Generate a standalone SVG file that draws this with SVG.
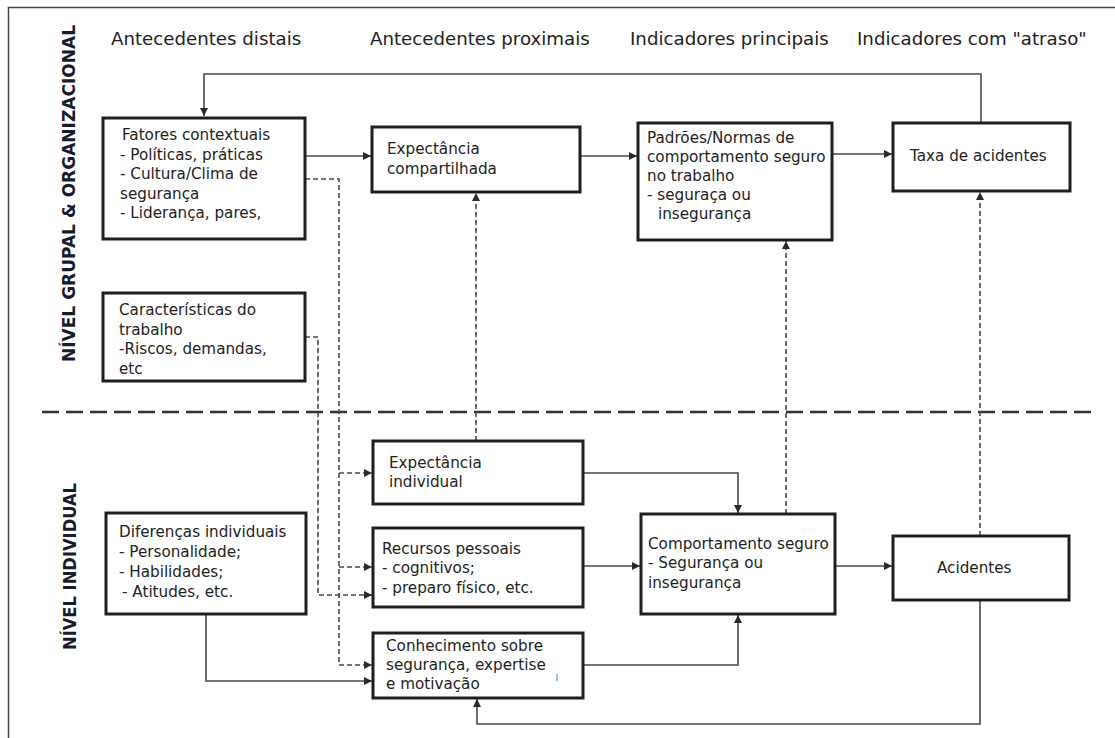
<svg xmlns="http://www.w3.org/2000/svg" width="1115" height="738" viewBox="0 0 1115 738">
<defs>
<style>
.hd{font-family:"DejaVu Sans","Open Sans",sans-serif;font-size:18.2px;fill:#222;}
.tx{font-family:"DejaVu Sans","Open Sans",sans-serif;font-size:15.2px;fill:#222;}
.lv{font-family:"DejaVu Sans","Open Sans",sans-serif;font-size:17px;font-weight:bold;fill:#1a1a2e;}
.box{fill:#fff;stroke:#1e1e1e;stroke-width:3;}
.c{fill:none;stroke:#4a4a4a;stroke-width:1.6;}
.d{fill:none;stroke:#4a4a4a;stroke-width:1.6;stroke-dasharray:5 3;}
</style>
<marker id="ah" viewBox="0 0 10 10" refX="10" refY="5" markerWidth="9" markerHeight="8" markerUnits="userSpaceOnUse" orient="auto">
<path d="M0,0 L10,5 L0,10 z" fill="#2a2a2a"/>
</marker>
</defs>
<rect width="1115" height="738" fill="#fff"/>
<g id="frame">
<path d="M1115,7.5 H8.5 V738" fill="none" stroke="#444" stroke-width="1.5"/>
</g>
<g id="headers">
<text class="hd" x="111" y="45">Antecedentes distais</text>
<text class="hd" x="370" y="45">Antecedentes proximais</text>
<text class="hd" x="630" y="45">Indicadores principais</text>
<text class="hd" x="857" y="45">Indicadores com "atraso"</text>
</g>
<g id="levels">
<text class="lv" transform="translate(75,193.5) rotate(-90)" text-anchor="middle" textLength="337" lengthAdjust="spacingAndGlyphs">NÍVEL GRUPAL &amp; ORGANIZACIONAL</text>
<text class="lv" transform="translate(76,566.5) rotate(-90)" text-anchor="middle" textLength="167" lengthAdjust="spacingAndGlyphs">NÍVEL INDIVIDUAL</text>
</g>
<g id="divider">
<line x1="42" y1="412" x2="1092" y2="412" stroke="#333" stroke-width="2.5" stroke-dasharray="17 7"/>
</g>
<g id="connectors">
<path class="c" d="M981,123 V74 H204 V116" marker-end="url(#ah)"/>
<path class="c" d="M305,156 H371" marker-end="url(#ah)"/>
<path class="c" d="M580,156 H637" marker-end="url(#ah)"/>
<path class="c" d="M832,154 H892" marker-end="url(#ah)"/>
<path class="d" d="M305,179 H339 V665 H372" marker-end="url(#ah)"/>
<path class="d" d="M339,473 H372" marker-end="url(#ah)"/>
<path class="d" d="M339,567 H372" marker-end="url(#ah)"/>
<path class="d" d="M305,337 H318 V595 H372" marker-end="url(#ah)"/>
<path class="c" d="M206,614 V681 H372" marker-end="url(#ah)"/>
<path class="d" d="M476,441 V193" marker-end="url(#ah)"/>
<path class="c" d="M583,473 H738 V513" marker-end="url(#ah)"/>
<path class="c" d="M583,566 H640" marker-end="url(#ah)"/>
<path class="c" d="M583,665 H738 V615" marker-end="url(#ah)"/>
<path class="c" d="M835,566 H892" marker-end="url(#ah)"/>
<path class="d" d="M786,514 V241" marker-end="url(#ah)"/>
<path class="d" d="M980,536 V192" marker-end="url(#ah)"/>
<path class="c" d="M980,600 V724 H477 V699" marker-end="url(#ah)"/>
</g>
<g id="fatores">
<rect class="box" x="103" y="118" width="202" height="121"/>
<text class="tx"><tspan x="122" y="140">Fatores contextuais</tspan><tspan x="120" y="159.5">- Políticas, práticas</tspan><tspan x="120" y="179">- Cultura/Clima de</tspan><tspan x="120" y="198.5">segurança</tspan><tspan x="120" y="218">- Liderança, pares,</tspan></text>
</g>
<g id="caracteristicas">
<rect class="box" x="103" y="293" width="202" height="88"/>
<text class="tx"><tspan x="119" y="315">Características do</tspan><tspan x="119" y="334.5">trabalho</tspan><tspan x="119" y="354">-Riscos, demandas,</tspan><tspan x="119" y="373.5">etc</tspan></text>
</g>
<g id="diferencas">
<rect class="box" x="106" y="513" width="200" height="101"/>
<text class="tx"><tspan x="119" y="537">Diferenças individuais</tspan><tspan x="119" y="557">- Personalidade;</tspan><tspan x="119" y="577">- Habilidades;</tspan><tspan x="122" y="597">- Atitudes, etc.</tspan></text>
</g>
<g id="exp-compartilhada">
<rect class="box" x="372" y="127" width="208" height="65"/>
<text class="tx"><tspan x="387" y="154">Expectância</tspan><tspan x="387" y="174">compartilhada</tspan></text>
</g>
<g id="exp-individual">
<rect class="box" x="373" y="441" width="210" height="63"/>
<text class="tx"><tspan x="389" y="468">Expectância</tspan><tspan x="389" y="487">individual</tspan></text>
</g>
<g id="recursos">
<rect class="box" x="373" y="528" width="210" height="79"/>
<text class="tx"><tspan x="382" y="554">Recursos pessoais</tspan><tspan x="382" y="573">- cognitivos;</tspan><tspan x="382" y="593">- preparo físico, etc.</tspan></text>
</g>
<g id="conhecimento">
<rect class="box" x="373" y="633" width="210" height="65"/>
<text class="tx"><tspan x="386" y="651">Conhecimento sobre</tspan><tspan x="386" y="670">segurança, expertise</tspan><tspan x="386" y="689">e motivação</tspan></text>
<line x1="557" y1="674" x2="557" y2="681" stroke="#3a7bd5" stroke-width="1"/>
</g>
<g id="padroes">
<rect class="box" x="638" y="123" width="194" height="117"/>
<text class="tx"><tspan x="647" y="143">Padrões/Normas de</tspan><tspan x="647" y="162">comportamento seguro</tspan><tspan x="647" y="181">no trabalho</tspan><tspan x="647" y="200">- seguraça ou</tspan><tspan x="658" y="219">insegurança</tspan></text>
</g>
<g id="comportamento">
<rect class="box" x="641" y="514" width="194" height="100"/>
<text class="tx"><tspan x="648" y="549">Comportamento seguro</tspan><tspan x="648" y="568">- Segurança ou</tspan><tspan x="648" y="588">insegurança</tspan></text>
</g>
<g id="taxa">
<rect class="box" x="893" y="123" width="177" height="68"/>
<text class="tx" x="910" y="161">Taxa de acidentes</text>
</g>
<g id="acidentes">
<rect class="box" x="893" y="536" width="176" height="64"/>
<text class="tx" x="937" y="573">Acidentes</text>
</g>
</svg>
